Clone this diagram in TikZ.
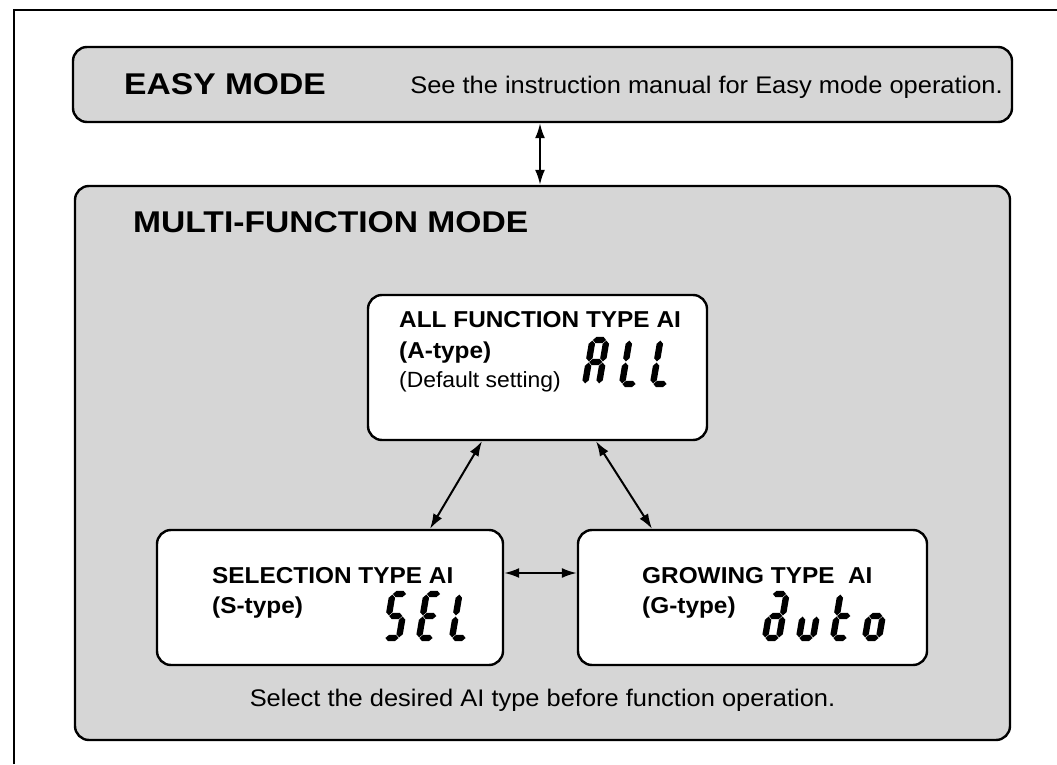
\documentclass[tikz,border=0pt]{standalone}
\usepackage{fontspec}
\setmainfont{Liberation Sans}
\newfontfamily\wideL[FakeStretch=1.12]{Liberation Sans}
\newfontfamily\wideM[FakeStretch=1.06]{Liberation Sans}
\newfontfamily\wideS[FakeStretch=1.04]{Liberation Sans}
\usetikzlibrary{arrows.meta}
% seven-segment pieces (cell width 14, height 44)
\newcommand\hsg[1]{\fill (0.4,#1) -- (3.6,#1+3.2) -- (10.4,#1+3.2) -- (13.6,#1) -- (10.4,#1-3.2) -- (3.6,#1-3.2) -- cycle;}
\newcommand\vsg[3]{\fill (#1,#2+0.6) -- (#1+3.2,#2+3.8) -- (#1+3.2,#3-3.8) -- (#1,#3-0.6) -- (#1-3.2,#3-3.8) -- (#1-3.2,#2+3.8) -- cycle;}
\newcommand\sgA{\hsg{44}}
\newcommand\sgG{\hsg{22}}
\newcommand\sgD{\hsg{0}}
\newcommand\sgF{\vsg{0}{22}{44}}
\newcommand\sgB{\vsg{14}{22}{44}}
\newcommand\sgE{\vsg{0}{0}{22}}
\newcommand\sgC{\vsg{14}{0}{22}}
\begin{document}
\begin{tikzpicture}[x=1pt,y=1pt,
  panel/.style={draw=black, line width=2.4pt, rounded corners=14pt, fill=black!16, inner sep=0pt},
  card/.style={draw=black, line width=2.4pt, rounded corners=14pt, fill=white, inner sep=0pt},
  arr/.style={{Latex[length=15pt,width=10pt]}-{Latex[length=15pt,width=10pt]}, line width=2pt},
  ttl/.style={font=\wideM\fontsize{23}{27}\selectfont\bfseries, inner sep=0pt, anchor=base west},
  big/.style={font=\wideL\fontsize{30}{36}\selectfont\bfseries, inner sep=0pt, anchor=base west},
  txt/.style={font=\wideS\fontsize{22}{26}\selectfont, inner sep=0pt, anchor=base west},
  note/.style={font=\wideM\fontsize{24}{28}\selectfont, inner sep=0pt, anchor=base west},
  lcd/.style={xslant=0.17},
]
\useasboundingbox (0,0) rectangle (1057,764);
% outer frame
\draw[line width=1.4pt] (14,0) -- (14,754) -- (1057,754);
% panels
\node[panel, minimum width=939pt, minimum height=75pt] (easy) at (542.5,679.5) {};
\node[panel, minimum width=935pt, minimum height=554pt] (multi) at (542.5,301) {};
\node[big] (easyt) at (124,669) {EASY MODE};
\node[note, anchor=base east] (easyd) at (1003,670) {See the instruction manual for Easy mode operation.};
\node[big] (multit) at (133,531) {MULTI-FUNCTION MODE};
% cards
\node[card, minimum width=339pt, minimum height=145pt] (allbox) at (537.5,396.5) {};
\node[card, minimum width=346pt, minimum height=135pt] (selbox) at (330,166.5) {};
\node[card, minimum width=349pt, minimum height=135pt] (grobox) at (752.5,166.5) {};
% card texts
\node[ttl] (allt) at (399,436) {ALL FUNCTION TYPE AI};
\node[ttl] (alla) at (399,405) {(A-type)};
\node[txt] (alld) at (399,376) {(Default setting)};
\node[ttl] (selt) at (212,181) {SELECTION TYPE AI};
\node[ttl] (sels) at (212,151) {(S-type)};
\node[ttl] (grot) at (642,181) {GROWING TYPE\ \ AI};
\node[ttl] (grog) at (642,151) {(G-type)};
\node[note, anchor=base] (note) at (542.5,58) {Select the desired AI type before function operation.};
% LCD: ALL
\begin{scope}[shift={(585,380)},lcd] \sgA\sgB\sgC\sgE\sgF\sgG \end{scope}
\begin{scope}[shift={(622,380)},lcd] \sgF\sgE\sgD \end{scope}
\begin{scope}[shift={(653,380)},lcd] \sgF\sgE\sgD \end{scope}
% LCD: SEL
\begin{scope}[shift={(385,126)},lcd] \sgA\sgF\sgG\sgC\sgD \end{scope}
\begin{scope}[shift={(419,126)},lcd] \sgA\sgF\sgG\sgE\sgD \end{scope}
\begin{scope}[shift={(452,126)},lcd] \sgF\sgE\sgD \end{scope}
% LCD: auto
\begin{scope}[shift={(765,126)},lcd] \sgA\sgB\sgG\sgE\sgC\sgD \end{scope}
\begin{scope}[shift={(799,126)},lcd] \sgE\sgC\sgD \end{scope}
\begin{scope}[shift={(833,126)},lcd] \sgF\sgE\sgG\sgD \end{scope}
\begin{scope}[shift={(865,126)},lcd] \sgG\sgE\sgC\sgD \end{scope}
% connectors
\coordinate (cx) at (540,0);
\draw[arr] (easy.south -| cx) -- (multi.north -| cx);
\coordinate (l1) at (482,0);
\coordinate (l2) at (430,0);
\coordinate (r1) at (596,0);
\coordinate (r2) at (652,0);
\draw[arr] (allbox.south -| l1) -- (selbox.north -| l2);
\draw[arr] (allbox.south -| r1) -- (grobox.north -| r2);
\coordinate (hy) at (0,191);
\draw[arr] (selbox.east |- hy) -- (grobox.west |- hy);
\end{tikzpicture}
\end{document}
